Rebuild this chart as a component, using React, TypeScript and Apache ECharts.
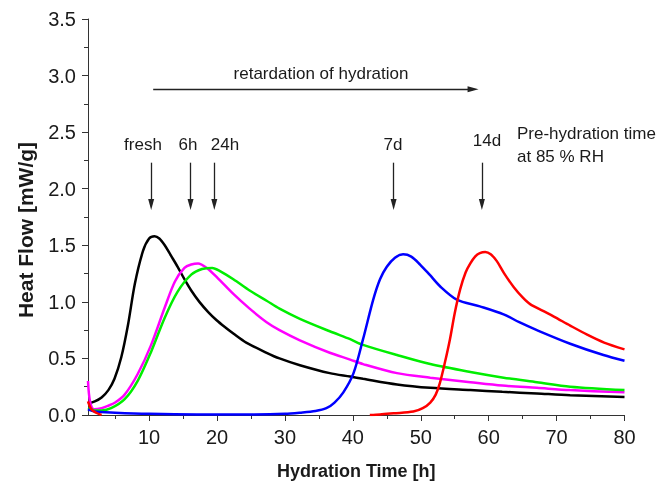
import React, { useEffect, useRef } from "react";
import * as echarts from "echarts";

const FONT = "'Liberation Sans', Arial, Helvetica, sans-serif";

const xMajorTicks = [10, 20, 30, 40, 50, 60, 70, 80];
const xMinorTicks = [5, 15, 25, 35, 45, 55, 65, 75];

const freshX = [1.0, 2.0, 3.0, 4.0, 4.9, 5.9, 6.9, 7.9, 9.1, 10.0, 10.8, 11.5, 12.3, 13.2, 14.2, 15.2, 16.2, 17.4, 18.7, 19.9, 21.1, 22.4, 24.3, 27.3, 29.2, 32.2, 36.6, 39.6, 41.5, 46.5, 51.4, 57.3, 62.0, 67.1, 72.0, 80.0];
const freshY = [0.10, 0.12, 0.155, 0.22, 0.32, 0.51, 0.80, 1.16, 1.45, 1.56, 1.58, 1.56, 1.50, 1.41, 1.31, 1.20, 1.10, 1.00, 0.91, 0.84, 0.78, 0.72, 0.64, 0.55, 0.50, 0.44, 0.37, 0.34, 0.32, 0.27, 0.24, 0.22, 0.205, 0.19, 0.175, 0.16];

const h6X = [1.0, 1.3, 1.9, 3.0, 3.9, 5.0, 6.4, 8.3, 10.3, 12.3, 13.8, 15.2, 16.2, 17.2, 18.5, 20.1, 22.4, 24.8, 27.3, 29.2, 32.2, 36.6, 39.6, 41.5, 46.5, 51.4, 57.3, 62.0, 67.1, 72.0, 80.0];
const h6Y = [0.30, 0.12, 0.05, 0.06, 0.08, 0.11, 0.18, 0.36, 0.62, 0.95, 1.18, 1.30, 1.33, 1.34, 1.30, 1.21, 1.07, 0.94, 0.82, 0.75, 0.66, 0.55, 0.49, 0.45, 0.37, 0.33, 0.29, 0.26, 0.24, 0.22, 0.20];

const h24X = [1.0, 2.0, 3.0, 4.4, 6.4, 8.3, 10.3, 12.3, 14.2, 16.2, 17.8, 19.3, 20.5, 22.4, 24.8, 27.3, 29.2, 32.2, 36.6, 39.6, 41.5, 46.5, 51.4, 57.3, 62.2, 67.1, 72.0, 80.0];
const h24Y = [0.06, 0.04, 0.04, 0.06, 0.14, 0.30, 0.56, 0.86, 1.09, 1.24, 1.29, 1.30, 1.27, 1.20, 1.10, 1.01, 0.94, 0.85, 0.74, 0.67, 0.62, 0.53, 0.45, 0.38, 0.33, 0.29, 0.25, 0.22];

const d7X = [1.0, 2.0, 5.0, 10.0, 17.0, 25.0, 30.0, 32.2, 34.5, 36.1, 37.3, 38.6, 40.1, 41.5, 43.0, 44.0, 45.0, 46.2, 47.4, 48.6, 49.9, 51.3, 52.8, 55.3, 58.7, 62.2, 64.5, 67.1, 72.0, 76.9, 80.0];
const d7Y = [0.05, 0.03, 0.02, 0.01, 0.005, 0.005, 0.01, 0.02, 0.035, 0.06, 0.11, 0.20, 0.37, 0.67, 1.02, 1.20, 1.31, 1.39, 1.42, 1.40, 1.33, 1.24, 1.14, 1.02, 0.96, 0.89, 0.82, 0.75, 0.63, 0.53, 0.48];

const d14X = [1.0, 1.5, 2.2, 3.0, 20.0, 42.5, 44.0, 46.0, 48.9, 50.3, 51.4, 52.2, 52.8, 53.5, 54.3, 55.0, 55.8, 56.6, 57.3, 58.0, 58.7, 59.5, 60.3, 61.2, 62.3, 63.7, 65.0, 66.1, 68.0, 69.6, 72.0, 74.5, 77.0, 80.0];
const d14Y: (number | null)[] = [0.12, 0.05, 0.02, 0.0, null, 0.0, 0.005, 0.015, 0.03, 0.06, 0.11, 0.18, 0.28, 0.45, 0.67, 0.90, 1.11, 1.26, 1.34, 1.40, 1.43, 1.44, 1.42, 1.36, 1.25, 1.13, 1.04, 0.98, 0.92, 0.87, 0.79, 0.71, 0.64, 0.58];

// annotation arrows (data coordinates)
const downArrowX = [10.3, 16.1, 19.6, 46.0, 59.0];
const downArrowTop = 2.23;
const downArrowBottom = 1.86;
const retardArrowX = [10.6, 57.7];
const retardArrowY = 2.88;

const zip = (xs: number[], ys: (number | null)[]) => xs.map((x, i) => [x, ys[i] === null ? "-" : ys[i]]);

export default function App() {
  const ref = useRef<HTMLDivElement>(null);
  useEffect(() => {
    const chart = echarts.init(ref.current!, null, { renderer: "svg" });
    const axisColor = "#333";
    const textColor = "#1a1a1a";
    const lineSeries = (name: string, data: any[], color: string, extra: any = {}) => ({
      name,
      type: "line",
      data,
      xAxisIndex: 0,
      yAxisIndex: 0,
      smooth: 0.3,
      showSymbol: false,
      symbol: "none",
      connectNulls: false,
      lineStyle: { color, width: 2.5 },
      itemStyle: { color },
      ...extra,
    });
    const arrowLines: any[] = downArrowX.map((x) => [
      { coord: [x, downArrowTop] },
      { coord: [x, downArrowBottom] },
    ]);
    arrowLines.push([
      { coord: [retardArrowX[0], retardArrowY] },
      { coord: [retardArrowX[1], retardArrowY] },
    ]);
    const txt = (text: string, x: number, y: number, align = "center", size = 17) => ({
      type: "text",
      x,
      y,
      silent: true,
      style: {
        text,
        fontSize: size,
        fontFamily: FONT,
        fill: textColor,
        align,
        textAlign: align,
        verticalAlign: "middle",
        textVerticalAlign: "middle",
      },
    });
    const option: any = {
      animation: false,
      grid: { left: 88, right: 47.5, top: 19, bottom: 69.5, containLabel: false },
      xAxis: [
        {
          type: "value",
          min: 1,
          max: 80,
          position: "bottom",
          axisLine: { show: true, lineStyle: { color: axisColor, width: 1 } },
          axisTick: { show: true, customValues: xMajorTicks, length: 6, lineStyle: { color: axisColor } },
          axisLabel: { customValues: xMajorTicks, fontSize: 20, fontFamily: FONT, color: textColor, margin: 12 },
          splitLine: { show: false },
          name: "Hydration Time [h]",
          nameLocation: "middle",
          nameGap: 47,
          nameTextStyle: { fontSize: 18, fontWeight: "bold", fontFamily: FONT, color: textColor },
        },
        {
          type: "value",
          min: 1,
          max: 80,
          position: "bottom",
          gridIndex: 0,
          axisLine: { show: false },
          axisTick: { show: true, customValues: xMinorTicks, length: 4, lineStyle: { color: axisColor } },
          axisLabel: { show: false },
          splitLine: { show: false },
        },
      ],
      yAxis: {
        type: "value",
        min: 0,
        max: 3.5,
        interval: 0.5,
        axisLine: { show: true, lineStyle: { color: axisColor, width: 1 } },
        axisTick: { show: true, length: 6, lineStyle: { color: axisColor } },
        minorTick: { show: true, splitNumber: 2, length: 4, lineStyle: { color: axisColor } },
        axisLabel: { fontSize: 20, fontFamily: FONT, color: textColor, margin: 12, formatter: (v: number) => v.toFixed(1) },
        splitLine: { show: false },
        minorSplitLine: { show: false },
      },
      series: [
        lineSeries("fresh", zip(freshX, freshY), "#000000", {
          markLine: {
            silent: true,
            symbol: ["none", "triangle"],
            symbolSize: [6, 11],
            lineStyle: { color: "#222", width: 1.3, type: "solid" },
            itemStyle: { color: "#222" },
            label: { show: false },
            emphasis: { disabled: true },
            data: arrowLines,
          },
        }),
        lineSeries("6h", zip(h6X, h6Y), "#ff00ff"),
        lineSeries("24h", zip(h24X, h24Y), "#00ee00"),
        lineSeries("7d", zip(d7X, d7Y), "#0000ff"),
        lineSeries("14d", zip(d14X, d14Y), "#ff0000"),
      ],
      graphic: [
        {
          type: "text",
          x: 25,
          y: 230,
          rotation: Math.PI / 2,
          silent: true,
          style: {
            text: "Heat Flow [mW/g]",
            fontSize: 21,
            fontWeight: "bold",
            fontFamily: FONT,
            fill: textColor,
            align: "center",
            textAlign: "center",
            verticalAlign: "middle",
            textVerticalAlign: "middle",
          },
        },
        txt("retardation of hydration", 321, 73),
        txt("fresh", 143, 144),
        txt("6h", 188, 144),
        txt("24h", 225, 144),
        txt("7d", 393, 144),
        txt("14d", 487, 140),
        txt("Pre-hydration time", 517, 133, "left"),
        txt("at 85 % RH", 517, 156, "left"),
      ],
    };
    chart.setOption(option);
    return () => chart.dispose();
  }, []);
  return <div ref={ref} style={{ position: "fixed", left: 0, top: 0, width: 672, height: 485 }} />;
}
